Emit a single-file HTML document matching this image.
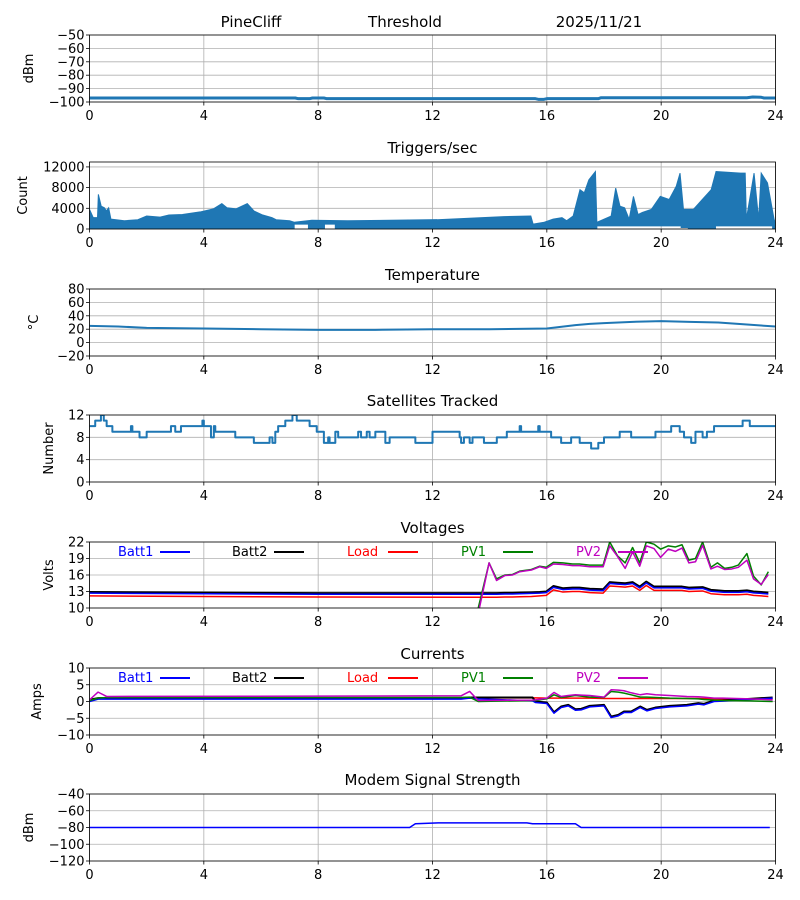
<!DOCTYPE html>
<html><head><meta charset="utf-8">
<style>
html,body{margin:0;padding:0;background:#fff;}
svg{display:block;font-family:"DejaVu Sans","Liberation Sans",sans-serif;}
</style></head>
<body>
<svg id="fig" width="800" height="900" viewBox="0 0 800 900" xmlns="http://www.w3.org/2000/svg">
<text x="251" y="27" font-size="15" text-anchor="middle">PineCliff</text>
<text x="405" y="27" font-size="15" text-anchor="middle">Threshold</text>
<text x="599" y="27" font-size="15" text-anchor="middle">2025/11/21</text>
</svg>
<script>
// ---------- data ----------
const xTicks = [0,4,8,12,16,20,24];
// signal dBm
const sigT = [0,7.2,7.3,7.7,7.8,8.2,8.3,15.6,15.7,15.9,16,17.8,17.9,23,23.2,23.5,23.6,24];
const sigV = [-97,-97,-97.5,-97.5,-97,-97,-97.5,-97.5,-98,-98,-97.5,-97.5,-96.8,-96.8,-96.3,-96.5,-97,-97];
// triggers upper envelope
const trigT = [0,0.13,0.28,0.31,0.41,0.52,0.59,0.67,0.75,1.22,1.69,2,2.47,2.78,3.25,3.87,4.34,4.63,4.81,5.13,5.52,5.75,6.06,6.38,6.53,7.0,7.16,7.78,9.03,12.16,14.5,15.44,15.52,15.91,16.22,16.53,16.69,16.92,17.16,17.31,17.47,17.7,17.75,18.25,18.41,18.56,18.72,18.88,19.03,19.19,19.34,19.66,19.97,20.28,20.53,20.66,20.78,21.13,21.44,21.75,21.92,22.78,22.94,22.98,23.25,23.41,23.5,23.72,23.95,24];
const trigHi = [3800,2200,2200,6700,4400,4100,3500,4100,1900,1600,1800,2500,2300,2700,2800,3300,3900,4900,4100,3900,4900,3500,2700,2200,1800,1600,1300,1700,1600,1800,2400,2500,950,1300,1900,2200,1600,2500,7600,7000,9500,11100,1300,2500,7900,4400,4100,1900,6300,2800,3200,3800,6300,5700,8300,10800,3800,3800,5700,7600,11100,10800,10800,1900,10800,1900,10800,8900,1900,1000];
// triggers lower envelope
const trigLoT = [0,7.16,7.16,7.66,7.66,8.22,8.22,8.6,8.6,17.75,17.75,20.7,20.7,20.95,20.95,21.9,21.9,23.9,23.9,24];
const trigLo = [0,0,950,950,0,0,950,950,0,0,600,600,300,300,0,0,600,600,0,0];
// temperature
const tempT = [0,1,2,4,6,8,10,12,14,16,17,17.5,18,19,20,21,22,23,24];
const tempV = [25,24,22,21,20,19,19,20,20,21,26,28,29,31,32,31,30,27,24];
// satellites (step)
const satT = [0,0.2,0.4,0.5,0.6,0.8,1.45,1.5,1.75,2,2.85,3,3.2,3.95,4,4.25,4.35,4.4,5.1,5.75,6.3,6.4,6.5,6.6,6.85,7.1,7.25,7.7,7.95,8.2,8.35,8.4,8.6,8.7,9.25,9.4,9.5,9.7,9.8,10,10.35,10.5,11.4,12,12.95,13,13.1,13.3,13.4,13.8,14.25,14.6,15.05,15.1,15.7,15.75,16.15,16.5,16.85,17.15,17.55,17.8,18,18.55,18.95,19.5,19.8,20.35,20.65,20.8,21.05,21.2,21.45,21.6,21.85,22.85,23.1,24];
const satV = [10,11,12,11,10,9,10,9,8,9,10,9,10,11,10,8,10,9,8,7,8,7,9,10,11,12,11,10,9,7,8,7,9,8,8,9,8,9,8,9,7,8,7,9,8,7,8,7,8,7,8,9,10,9,10,9,8,7,8,7,6,7,8,9,8,8,9,10,9,8,7,9,8,9,10,11,10,10];
// voltages
const vT = [0,4,8,13,13.6,13.98,14.24,14.53,14.8,15.05,15.46,15.75,15.98,16.23,16.56,16.9,17.14,17.5,17.97,18.2,18.47,18.74,19,19.25,19.48,19.75,19.98,20.25,20.5,20.73,20.97,21.2,21.45,21.74,21.97,22.22,22.47,22.7,23,23.23,23.5,23.75];
const vBatt2 = [12.9,12.8,12.7,12.7,12.7,12.7,12.7,12.75,12.75,12.8,12.85,12.9,13,14,13.6,13.7,13.7,13.5,13.4,14.7,14.6,14.5,14.7,13.9,14.8,13.9,13.9,13.9,13.9,13.9,13.7,13.75,13.8,13.3,13.2,13.1,13.1,13.1,13.2,13,12.9,12.8];
const vBatt1 = [12.7,12.6,12.5,12.5,12.5,12.5,12.5,12.55,12.55,12.6,12.65,12.7,12.8,13.75,13.35,13.45,13.45,13.25,13.15,14.45,14.35,14.25,14.45,13.65,14.55,13.65,13.65,13.65,13.65,13.65,13.45,13.5,13.55,13.05,12.95,12.85,12.85,12.85,12.95,12.75,12.65,12.55];
const vLoad = [12.2,12.1,12.0,11.95,11.95,11.95,11.95,12,12,12.05,12.1,12.2,12.3,13.3,12.9,13,13,12.8,12.7,14,13.9,13.8,14,13.2,14.1,13.2,13.2,13.2,13.2,13.2,13,13.05,13.1,12.6,12.5,12.4,12.4,12.4,12.5,12.3,12.2,12.1];
const vPV1 = [-5,-5,-5,-5,10,18.2,15.3,16,16.1,16.7,17,17.6,17.4,18.3,18.2,18,18,17.8,17.8,22,19.5,18.2,21,18.2,22,21.6,20.7,21.3,21.1,21.5,18.7,19,22,17.4,18.2,17.2,17.4,17.8,19.9,15.8,14.2,16.6];
const vPV2 = [-5,-5,-5,-5,9,18.2,15,15.9,16,16.6,16.9,17.5,17.2,18,17.9,17.7,17.7,17.5,17.5,21.3,19.4,17.2,20.2,17.6,21.3,20.8,19.2,20.7,20.3,20.9,18.2,18.4,21.4,17.1,17.6,17,17.1,17.4,18.7,15.3,14.3,16.1];
// currents
const cT = [0,0.3,0.6,13,13.3,13.6,15.5,15.6,16,16.25,16.5,16.75,17,17.2,17.5,18,18.25,18.5,18.7,18.95,19.27,19.5,19.8,20.3,20.9,21.3,21.5,21.85,22.15,23.1,23.9];
const cBatt2 = [0.5,1,1,1,1.2,1.2,1.2,0,-0.3,-3.2,-1.5,-1,-2.3,-2.2,-1.3,-1,-4.5,-4,-3,-3,-1.5,-2.5,-1.8,-1.3,-1,-0.5,-0.7,0.3,0.3,0.8,1.2];
const cBatt1 = [0,0.7,0.7,0.7,1,0.8,0.2,-0.3,-0.6,-3.5,-1.8,-1.3,-2.6,-2.5,-1.6,-1.3,-4.8,-4.3,-3.3,-3.3,-1.8,-2.8,-2.1,-1.6,-1.3,-0.8,-1,0,0.1,0.6,1];
const cLoad = [0.3,1,1,1,1.1,1.1,1.1,1.1,1,1,1,1,1,1,1,0.9,0.9,0.9,0.9,0.9,0.9,0.9,0.9,0.9,0.9,0.9,0.9,0.8,0.8,0.8,0.8];
const cPV1 = [0.3,1,1.2,1.2,1.3,0,0.3,0.3,0.8,2,1.2,1.5,1.8,1.6,1.3,1.2,3,2.8,2.5,2,1.3,1.3,1.2,1,0.9,0.8,0.6,0.4,0.3,0.2,0];
const cPV2 = [0.5,2.8,1.5,1.7,3,0.3,0.4,0.5,1,2.7,1.5,1.8,2,1.9,1.8,1.3,3.5,3.4,3.2,2.6,2,2.3,2,1.8,1.5,1.4,1.3,1,1,0.8,0.5];
// modem
const mT = [0,11.2,11.4,12.2,15.3,15.5,17,17.2,23.8];
const mV = [-80,-80,-75.5,-74.5,-74.5,-75.5,-75.5,-80,-80];

// ---------- drawing ----------
const NS='http://www.w3.org/2000/svg';
const svg=document.getElementById('fig');
const X0=89.5, X1=775.5;
function sx(t){return X0+(t/24)*(X1-X0);}
function mk(tag,attrs,parent){const e=document.createElementNS(NS,tag);for(const k in attrs)e.setAttribute(k,attrs[k]);(parent||svg).appendChild(e);return e;}

function panel(o){
  const g=mk('g',{});
  
  
  const sy=v=>o.bot-(v-o.min)/(o.max-o.min)*(o.bot-o.top);
  const clipId='clip-'+o.name;
  const cp=mk('clipPath',{id:clipId},g);
  mk('rect',{x:X0,y:o.top,width:X1-X0,height:o.bot-o.top},cp);
  xTicks.forEach(t=>{const l=mk('line',{x1:sx(t),x2:sx(t),y1:o.top,y2:o.bot,stroke:'#b0b0b0','stroke-width':0.8},g);
    
    });
  o.ticks.forEach(v=>{const l=mk('line',{x1:X0,x2:X1,y1:sy(v),y2:sy(v),stroke:'#b0b0b0','stroke-width':0.8},g);
    
    });
  const data=mk('g',{'clip-path':'url(#'+clipId+')'},g);
  
  
  o.draw(data,sy);
  const fr=mk('rect',{x:X0,y:o.top,width:X1-X0,height:o.bot-o.top,fill:'none',stroke:'#000','stroke-width':0.8},g);
  
  
  xTicks.forEach(t=>{mk('line',{x1:sx(t),x2:sx(t),y1:o.bot,y2:o.bot+3.5,stroke:'#000','stroke-width':0.8},g);
    const tx=mk('text',{x:sx(t),y:o.bot+18,'font-size':13,'text-anchor':'middle'},g);tx.textContent=t;
    
    });
  o.ticks.forEach(v=>{mk('line',{x1:X0-3.5,x2:X0,y1:sy(v),y2:sy(v),stroke:'#000','stroke-width':0.8},g);
    const tx=mk('text',{x:X0-5,y:sy(v)+4.5,'font-size':13,'text-anchor':'end'},g);tx.textContent=String(v).replace('-','\u2212');
    
    });
  if(o.title){const tt=mk('text',{x:(X0+X1)/2,y:o.top-9,'font-size':15,'text-anchor':'middle'},g);tt.textContent=o.title;
    
    }
  const yl=mk('text',{x:0,y:0,'font-size':13,'text-anchor':'middle',transform:`translate(${o.ylx},${(o.top+o.bot)/2}) rotate(-90)`},g);yl.textContent=o.ylabel;
  
  
  if(o.legend){
    const L=[['Batt1','#0000ff',118,160],['Batt2','#000',232,274],['Load','#ff0000',347,388],['PV1','#008000',461,503],['PV2','#bf00bf',576,618]];
    L.forEach(l=>{const tx=mk('text',{x:l[2],y:o.top+14,'font-size':13,fill:l[1]},g);tx.textContent=l[0];
      
      
      mk('line',{x1:l[3],x2:l[3]+30,y1:o.top+10,y2:o.top+10,stroke:l[1],'stroke-width':2},g);});
  }
}
function line(parent,ts,vs,sy,color,w,step,name){
  let d='';
  ts.forEach((t,i)=>{
    if(i===0)d+='M'+sx(t)+','+sy(vs[i]);
    else if(step)d+='H'+sx(t)+'V'+sy(vs[i]);
    else d+='L'+sx(t)+','+sy(vs[i]);
  });
  if(step)d+='H'+sx(24);
  const p=mk('path',{d:d,fill:'none',stroke:color,'stroke-width':w,'stroke-linejoin':'round'},parent);
  
  
}
const BLUE='#1f77b4';
panel({name:'signal',top:35,bot:102,min:-100,max:-50,ticks:[-50,-60,-70,-80,-90,-100],ylabel:'dBm',ylx:33,
  draw:(g,sy)=>line(g,sigT,sigV,sy,BLUE,3,false,'signal-line')});
panel({name:'triggers',top:162,bot:229,min:0,max:12950,ticks:[0,4000,8000,12000],title:'Triggers/sec',ylabel:'Count',ylx:27,
  draw:(g,sy)=>{let d='';trigT.forEach((t,i)=>{d+=(i?'L':'M')+sx(t)+','+sy(trigHi[i]);});
    for(let i=trigLoT.length-1;i>=0;i--)d+='L'+sx(trigLoT[i])+','+sy(trigLo[i]);
    const p=mk('path',{d:d+'Z',fill:BLUE,stroke:BLUE,'stroke-width':1},g);
    
    }});
panel({name:'temperature',top:289,bot:356,min:-20,max:80,ticks:[80,60,40,20,0,-20],title:'Temperature',ylabel:'°C',ylx:38,
  draw:(g,sy)=>line(g,tempT,tempV,sy,BLUE,2,false,'temperature-line')});
panel({name:'satellites',top:415,bot:482,min:0,max:12,ticks:[0,4,8,12],title:'Satellites Tracked',ylabel:'Number',ylx:53,
  draw:(g,sy)=>line(g,satT,satV,sy,BLUE,2,true,'satellites-line')});
panel({name:'voltages',top:542,bot:608,min:10,max:22,ticks:[10,13,16,19,22],title:'Voltages',ylabel:'Volts',ylx:53,legend:true,
  draw:(g,sy)=>{line(g,vT,vLoad,sy,'#ff0000',1.5,false,'load-voltage');line(g,vT,vBatt2,sy,'#000',2,false,'batt2-voltage');
    line(g,vT,vBatt1,sy,'#0000ff',1.5,false,'batt1-voltage');line(g,vT,vPV1,sy,'#008000',1.5,false,'pv1-voltage');
    line(g,vT,vPV2,sy,'#bf00bf',1.5,false,'pv2-voltage');}});
panel({name:'currents',top:668,bot:735,min:-10,max:10,ticks:[10,5,0,-5,-10],title:'Currents',ylabel:'Amps',ylx:41,legend:true,
  draw:(g,sy)=>{line(g,cT,cLoad,sy,'#ff0000',1.5,false,'load-current');line(g,cT,cBatt2,sy,'#000',2,false,'batt2-current');
    line(g,cT,cBatt1,sy,'#0000ff',1.5,false,'batt1-current');line(g,cT,cPV1,sy,'#008000',1.5,false,'pv1-current');
    line(g,cT,cPV2,sy,'#bf00bf',1.5,false,'pv2-current');}});
panel({name:'modem',top:794,bot:861,min:-120,max:-40,ticks:[-40,-60,-80,-100,-120],title:'Modem Signal Strength',ylabel:'dBm',ylx:33,
  draw:(g,sy)=>line(g,mT,mV,sy,'#0000ff',1.5,false,'modem-line')});
</script>
</body></html>
